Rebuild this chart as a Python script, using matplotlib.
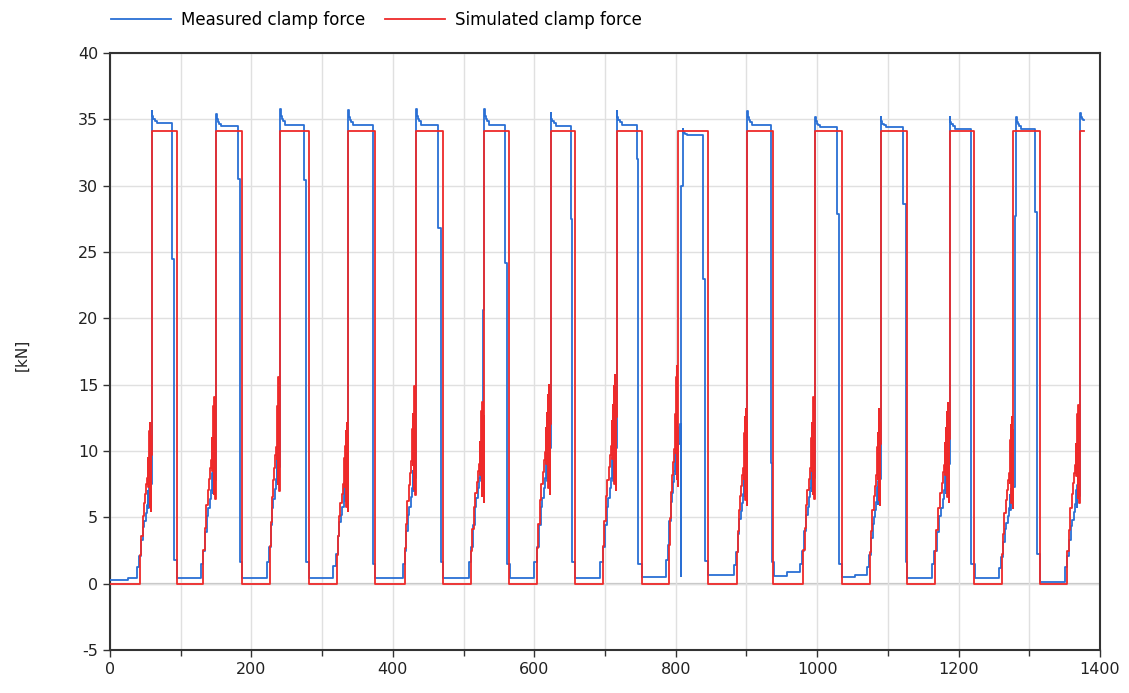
import numpy as np
import matplotlib
matplotlib.use("Agg")
from matplotlib import pyplot as plt
from matplotlib.ticker import MultipleLocator

plt.rcParams["axes.unicode_minus"] = False

# --- datos (15 ciclos de cierre) ---
t_end = 1377.5
sim_plateau = 34.1

# simulado: inicio de rampa, subida a meseta, bajada a cero
sim_start = [42.4, 132, 226, 320.5, 417, 510, 603.4, 696.7, 790.8, 886, 980.5, 1074.8, 1166.7, 1261, 1353.8]
sim_rise = [59, 150, 240.4, 337, 432.8, 529.4, 623.2, 716.5, 803.8, 901.3, 997, 1090, 1187.5, 1277.5, 1371.8]
sim_fall = [94.3, 186, 281.5, 374.8, 471, 564.7, 657.6, 751.8, 845.2, 938, 1034.7, 1126.7, 1222, 1315]
sim_peak = [12.1, 14.1, 15.6, 12.1, 14.9, 13.7, 15.0, 15.7, 16.4, 13.2, 14.1, 13.2, 13.6, 12.6, 13.5]

# forma de la rampa simulada (fraccion de duracion, fraccion del pico)
sim_tpl_t = [0.00, 0.10, 0.22, 0.33, 0.45, 0.55, 0.62, 0.67, 0.70, 0.73, 0.76, 0.79, 0.82, 0.85, 0.88, 0.91, 0.94, 0.97]
sim_tpl_v = [0.18, 0.30, 0.42, 0.50, 0.56, 0.62, 0.66, 0.78, 0.60, 0.86, 0.72, 0.95, 0.48, 1.00, 0.70, 0.92, 0.45, 0.80]

# medido
meas_pre = 0.3
meas_start = [37.5, 128, 222, 316, 414, 507, 600, 693, 786, 882, 976, 1071, 1162, 1257, 1350]
meas_ramp_peak = [8.2, 9.8, 11.0, 8.9, 10.0, 11.1, 11.1, 11.1, 11.8, 9.4, 10.0, 8.6, 9.8, 7.9, 8.3]
meas_rise = [59.3, 150.3, 240.6, 337.2, 433, 529.5, 623.4, 716.7, 809.6, 901.5, 997.2, 1090.2, 1187.7, 1281.4, 1372]
meas_rise_steps = [[], [], [], [], [], [(527.0, 20.6)], [], [],
                   [(803.8, 10.5), (805.5, 12.0), (807.3, 0.6), (807.8, 30.0)],
                   [], [], [], [], [(1280.0, 27.7)], []]
meas_peak = [35.65, 35.4, 35.8, 35.7, 35.8, 35.8, 35.5, 35.65, 34.3, 35.65, 35.2, 35.2, 35.2, 35.2, 35.5]
meas_plateau = [34.7, 34.5, 34.6, 34.6, 34.6, 34.6, 34.5, 34.6, 33.8, 34.6, 34.4, 34.4, 34.3, 34.3, 34.8]
meas_drop = [87.2, 181.5, 274.4, 371.5, 464.4, 558.6, 652, 745, 838, 934.8, 1027.7, 1122, 1216, 1308]
meas_drop_level = [24.5, 30.5, 30.4, 34.5, 26.8, 24.2, 27.5, 32.0, 23.0, 9.1, 27.9, 28.6, 34.3, 28.0]
meas_fall = [90.5, 184, 277.5, 372.5, 467.6, 561, 653.9, 747, 841.5, 936.5, 1031.4, 1125.7, 1218, 1311.5]
meas_after_fall = [1.8, 1.6, 1.6, 1.5, 1.6, 1.5, 1.6, 1.5, 1.7, 1.6, 1.5, 1.6, 1.5, 2.2]
meas_base = [0.45, 0.45, 0.45, 0.45, 0.45, 0.45, 0.45, 0.5, 0.65, 0.6, 0.5, 0.45, 0.4, 0.15]
meas_base_late = [0.45, 0.45, 0.45, 0.45, 0.45, 0.45, 0.45, 0.5, 0.65, 0.85, 0.65, 0.45, 0.4, 0.15]

meas_tpl_t = [0.00, 0.15, 0.28, 0.40, 0.50, 0.60, 0.68, 0.74, 0.78, 0.82, 0.86, 0.90, 0.94, 0.97]
meas_tpl_v = [0.15, 0.25, 0.40, 0.52, 0.58, 0.65, 0.72, 0.85, 0.70, 0.90, 0.78, 1.00, 0.80, 0.92]
decay_dt = [0, 0.8, 2.0, 4.0, 7.0]
decay_frac = [1.0, 0.55, 0.35, 0.2, 0.0]

# --- armar las curvas escalonadas ---
st, sv = [0.0], [0.0]
for i in range(len(sim_start)):
    dur = sim_rise[i] - sim_start[i]
    for f, fv in zip(sim_tpl_t, sim_tpl_v):
        st.append(sim_start[i] + f * dur)
        sv.append(fv * sim_peak[i])
    st.append(sim_rise[i]); sv.append(sim_plateau)
    if i < len(sim_fall):
        st.append(sim_fall[i]); sv.append(0.0)
st.append(t_end); sv.append(sim_plateau)

mt, mv = [0.0, 25.0], [meas_pre, 0.4]
for i in range(len(meas_start)):
    dur = sim_rise[i] - meas_start[i]
    for f, fv in zip(meas_tpl_t, meas_tpl_v):
        mt.append(meas_start[i] + f * dur)
        mv.append(fv * meas_ramp_peak[i])
    for (t, v) in meas_rise_steps[i]:
        mt.append(t); mv.append(v)
    for dt, fr in zip(decay_dt, decay_frac):
        t = meas_rise[i] + dt
        if t > t_end:
            break
        mt.append(t)
        mv.append(meas_plateau[i] + fr * (meas_peak[i] - meas_plateau[i]))
    if i < len(meas_drop):
        mt.append(meas_drop[i]); mv.append(meas_drop_level[i])
        mt.append(meas_fall[i]); mv.append(meas_after_fall[i])
        mt.append(sim_fall[i] + 0.6); mv.append(meas_base[i])
        mt.append((sim_fall[i] + meas_start[i + 1]) / 2); mv.append(meas_base_late[i])
mt.append(t_end); mv.append(mv[-1])

# --- figura ---
fig = plt.figure(figsize=(11.29, 6.93), dpi=100)
ax = fig.add_axes([110 / 1129, 1 - 650 / 693, 990 / 1129, 597 / 693])

l1, = ax.plot(mt, mv, drawstyle="steps-post", color="#2a6fd4", lw=1.3, zorder=3)
l2, = ax.plot(st, sv, drawstyle="steps-post", color="#ee2a2a", lw=1.3, zorder=4)

ax.set_xlim(0, 1400)
ax.set_ylim(-5, 40)
ax.xaxis.set_major_locator(MultipleLocator(200))
ax.xaxis.set_minor_locator(MultipleLocator(100))
ax.yaxis.set_major_locator(MultipleLocator(5))
ax.grid(which="both", color="#e0e0e0", lw=1, zorder=0)
ax.axhline(0, color="#c4c4c4", lw=1.6, zorder=1)

for s in ax.spines.values():
    s.set_color("#333333")
    s.set_linewidth(1.5)
ax.tick_params(which="both", direction="out", length=5, width=1, color="#333333",
               labelsize=11.5, labelcolor="#222222")
ax.tick_params(which="minor", length=4)

fig.text(22 / 1129, 1 - 355 / 693, "[kN]", rotation=90, va="center", ha="center",
         fontsize=11, color="#222222")

fig.legend([l1, l2], ["Measured clamp force", "Simulated clamp force"],
           loc="center left", bbox_to_anchor=(96 / 1129, 1 - 20 / 693), ncol=2,
           frameon=False, fontsize=12, handlelength=3.6, columnspacing=1.2,
           handletextpad=0.6)

fig.savefig("out.png", dpi=100)
